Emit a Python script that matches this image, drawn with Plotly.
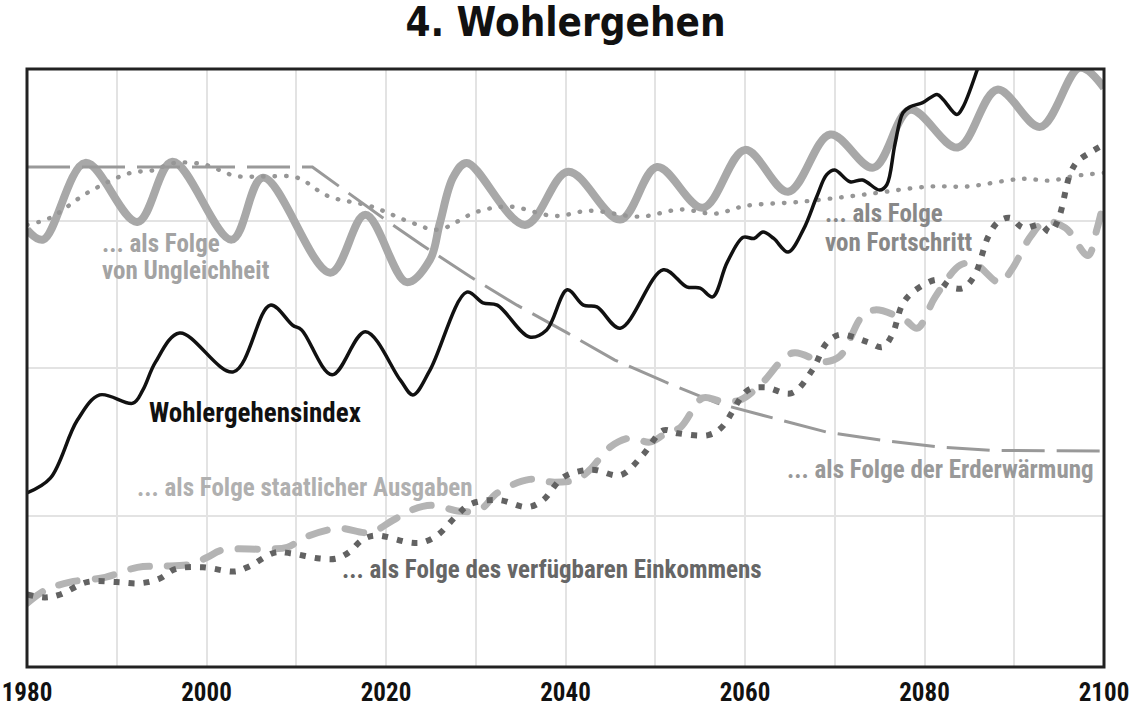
import plotly.graph_objects as go

# ---------------- data (years, index values) ----------------
tick_years = [1980, 1990, 2000, 2010, 2020, 2030, 2040, 2050, 2060, 2070, 2080, 2090, 2100]
tick_labels = ["1980", "", "2000", "", "2020", "", "2040", "", "2060", "", "2080", "", "2100"]

index_years = [1980.0, 1982.6, 1985.6, 1988.1, 1991.8, 1992.9, 1994.3, 1997.0, 2003.0, 2007.1,
               2009.6, 2010.6, 2014.0, 2017.7, 2021.6, 2023.0, 2024.9, 2029.0, 2030.8, 2032.4,
               2036.0, 2037.9, 2040.2, 2042.0, 2043.5, 2046.1, 2050.9, 2053.5, 2055.0, 2056.4,
               2058.0, 2059.8, 2061.0, 2062.0, 2063.2, 2064.8, 2066.5, 2068.0, 2069.1, 2070.0,
               2071.7, 2073.1, 2075.0, 2075.8, 2076.7, 2077.6, 2078.4, 2079.8, 2081.4, 2082.1,
               2083.6, 2084.3, 2086.0, 2086.4]
index_values = [28.9, 31.4, 41.2, 45.5, 44.1, 46.3, 51.0, 56.0, 49.4, 60.7,
                57.3, 56.5, 48.9, 56.2, 48.0, 45.5, 49.7, 62.9, 61.1, 60.7,
                55.3, 56.5, 63.3, 60.7, 60.4, 56.8, 66.7, 63.8, 63.6, 62.1,
                67.9, 72.2, 72.0, 73.1, 72.0, 69.7, 73.5, 79.1, 82.8, 83.6,
                81.6, 81.9, 80.2, 81.1, 87.9, 93.3, 94.3, 95.0, 96.4, 95.5,
                93.0, 94.3, 101.1, 102.8]

ungleichheit_years = [1980.0, 1981.8, 1986.5, 1992.3, 1996.2, 2002.8, 2006.3, 2013.8, 2017.7, 2022.3,
                      2024.9, 2026.0, 2027.5, 2029.0, 2035.5, 2040.3, 2046.1, 2050.2, 2055.3, 2060.0,
                      2064.8, 2069.5, 2074.3, 2078.4, 2083.7, 2088.1, 2092.9, 2097.3, 2100.0]
ungleichheit_values = [73.5, 71.8, 84.8, 74.8, 85.0, 71.8, 82.3, 66.2, 76.0, 64.6,
                       68.4, 74.6, 82.4, 84.8, 74.3, 83.3, 75.2, 84.1, 77.2, 87.0,
                       79.9, 89.6, 84.0, 93.8, 87.4, 97.2, 90.9, 100.9, 97.5]

fortschritt_years = [1980.0, 1982.6, 1986.7, 1991.5, 1993.9, 1996.5, 1999.8, 2003.2, 2006.5, 2010.1,
                     2013.5, 2018.4, 2023.0, 2025.8, 2030.1, 2033.8, 2038.8, 2042.7, 2048.3, 2052.8,
                     2056.7, 2060.0, 2066.1, 2073.1, 2080.6, 2084.7, 2090.9, 2094.0, 2096.8, 2100.0]
fortschritt_values = [74.3, 75.5, 79.7, 83.1, 83.5, 84.8, 84.5, 82.6, 82.5, 82.3,
                      79.2, 77.4, 74.6, 73.5, 76.5, 77.4, 75.8, 76.7, 75.7, 76.9,
                      76.2, 77.5, 78.2, 79.4, 80.8, 80.8, 82.1, 81.8, 82.6, 83.1]

erderwaermung_years = [1980.0, 2011.8, 2019.9, 2024.0, 2029.4, 2034.6, 2040.2, 2045.5, 2051.1, 2056.9,
                       2063.1, 2069.1, 2075.3, 2081.4, 2087.6, 2094.0, 2100.0]
erderwaermung_values = [84.1, 84.1, 75.2, 70.9, 65.5, 60.7, 56.0, 51.4, 47.7, 44.1,
                        41.6, 39.2, 37.8, 36.7, 36.1, 36.0, 36.0]

ausgaben_years = [1980.0, 1982.0, 1984.8, 1988.7, 1992.3, 1994.8, 1998.2, 2000.1, 2001.7, 2006.5,
                  2009.0, 2011.0, 2014.7, 2018.2, 2020.8, 2023.0, 2025.2, 2028.2, 2030.5, 2032.4,
                  2036.0, 2038.8, 2041.3, 2042.7, 2045.0, 2047.2, 2049.4, 2051.1, 2052.8, 2055.3,
                  2057.2, 2059.4, 2061.7, 2065.3, 2068.7, 2070.6, 2073.0, 2074.5, 2077.8, 2079.2,
                  2081.2, 2084.0, 2085.6, 2088.4, 2089.7, 2091.8, 2093.4, 2095.7, 2098.2, 2099.2,
                  2100.0]
ausgaben_values = [10.2, 12.4, 13.8, 14.6, 16.3, 16.5, 16.8, 18.0, 19.2, 19.4,
                   19.7, 21.4, 22.9, 22.2, 24.3, 26.1, 26.8, 25.8, 26.1, 28.9,
                   31.2, 30.7, 31.2, 32.8, 36.7, 38.2, 37.5, 38.9, 40.0, 45.0,
                   44.5, 44.6, 47.2, 52.6, 51.1, 52.1, 58.7, 59.9, 58.2, 56.8,
                   62.1, 67.5, 67.7, 64.5, 66.7, 72.3, 74.8, 73.8, 69.1, 73.5,
                   78.5]

einkommen_years = [1980.0, 1982.0, 1983.7, 1986.7, 1990.0, 1992.6, 1994.8, 1996.5, 1999.6, 2003.2,
                   2004.8, 2007.6, 2009.3, 2012.6, 2014.5, 2016.0, 2017.3, 2018.8, 2022.7, 2024.0,
                   2025.7, 2027.9, 2029.4, 2032.5, 2035.8, 2037.5, 2039.6, 2041.6, 2043.3, 2046.1,
                   2048.6, 2050.9, 2052.5, 2055.9, 2057.4, 2060.3, 2062.2, 2065.2, 2067.5, 2069.1,
                   2070.6, 2073.6, 2075.3, 2076.4, 2077.5, 2078.6, 2081.4, 2082.8, 2084.3, 2085.6,
                   2087.1, 2088.2, 2089.5, 2091.0, 2092.9, 2094.0, 2094.9, 2096.2, 2097.0, 2098.4,
                   2100.0]
einkommen_values = [11.7, 11.2, 11.7, 13.8, 13.8, 13.6, 14.4, 16.0, 16.3, 15.6,
                    16.5, 18.8, 18.7, 17.8, 17.8, 19.0, 20.9, 21.7, 20.5, 20.5,
                    21.7, 25.1, 27.0, 27.7, 26.5, 27.7, 31.4, 32.6, 32.8, 31.9,
                    35.3, 39.5, 39.0, 38.7, 40.0, 46.3, 46.8, 45.8, 49.7, 54.3,
                    55.7, 54.5, 53.6, 55.7, 60.7, 62.8, 65.0, 63.8, 63.6, 65.8,
                    72.3, 74.8, 75.5, 73.8, 74.3, 73.1, 75.2, 82.8, 85.0, 86.5,
                    87.9]

# ---------------- styling ----------------
TITLE_FONT = "DejaVu Sans Condensed, sans-serif"
FONT = "Roboto Condensed, Open Sans Condensed, DejaVu Sans Condensed, sans-serif"

fig = go.Figure()

def add_line(x, y, color, width, dash="solid", shape="spline"):
    fig.add_trace(go.Scatter(x=x, y=y, mode="lines", hoverinfo="skip", showlegend=False,
                             line=dict(color=color, width=width, dash=dash, shape=shape, smoothing=1)))

add_line(ungleichheit_years, ungleichheit_values, "#a8a8a8", 8)               # trace 0
add_line(fortschritt_years, fortschritt_values, "#969696", 4.4, "0.5px,11px")  # trace 1
add_line(erderwaermung_years, erderwaermung_values, "#999999", 3, "43px,12px", "linear")  # trace 2
add_line(ausgaben_years, ausgaben_values, "#b4b4b4", 7, "19px,18px")           # trace 3
add_line(einkommen_years, einkommen_values, "#626262", 6, "6px,9px")          # trace 4
add_line(index_years, index_values, "#111111", 3.5)                             # trace 5

def label(text, x, y, color, size=25, xanchor="left"):
    fig.add_annotation(x=x, y=y, xref="x", yref="y", text=text, showarrow=False,
                       xanchor=xanchor, yanchor="middle", align="left",
                       font=dict(family=FONT, size=size, color=color, weight="bold"))

label("... als Folge", 1988.1, 71.1, "#a3a3a3")
label("von Ungleichheit", 1988.1, 66.5, "#a3a3a3")
label("... als Folge", 2068.7, 76.2, "#888888")
label("von Fortschritt", 2068.7, 71.4, "#888888")
label("Wohlergehensindex", 1993.4, 42.4, "#111111", size=27)
label("... als Folge staatlicher Ausgaben", 1992.0, 29.9, "#b0b0b0")
label("... als Folge des verfügbaren Einkommens", 2014.85, 16.0, "#666666")
label("... als Folge der Erderwärmung", 2064.5, 32.8, "#999999")

fig.add_shape(type="rect", xref="paper", yref="paper", x0=0, x1=1, y0=0, y1=1,
              line=dict(color="#222222", width=3), layer="above")

fig.update_layout(
    width=1131, height=708,
    margin=dict(l=27, r=27, t=69, b=41, autoexpand=False),
    paper_bgcolor="white", plot_bgcolor="white",
    title=dict(text="4. Wohlergehen", x=0.5, xanchor="center", y=1 - 22 / 708, yanchor="middle",
               yref="container", font=dict(family=TITLE_FONT, size=40, color="#111111", weight="bold")),
    xaxis=dict(range=[1980, 2100], tickmode="array", tickvals=tick_years, ticktext=tick_labels,
               showgrid=True, gridcolor="#e3e3e3", gridwidth=2, zeroline=False, showline=False,
               ticks="", automargin=False, ticklabeloverflow="allow", ticklabelstandoff=8,
               tickfont=dict(family=FONT, size=25, color="#111111", weight="bold")),
    yaxis=dict(range=[-0.58, 100.7], tickmode="array", tickvals=[25, 50, 75], showticklabels=False,
               showgrid=True, gridcolor="#e3e3e3", gridwidth=2, zeroline=False, showline=False,
               ticks="", automargin=False),
)

post = """
document.body.style.margin = '0';
document.body.style.padding = '0';
var gd = document.getElementById('{plot_id}');
function roundCaps(){
  var traces = gd.querySelectorAll('.scatterlayer .trace');
  [1, 3].forEach(function(i){
    var t = traces[i];
    if (t) { t.querySelectorAll('path.js-line').forEach(function(p){ p.style.strokeLinecap = 'round'; }); }
  });
}
roundCaps();
if (gd.on) { gd.on('plotly_afterplot', roundCaps); }
"""

fig.write_html("out.html", post_script=post, config={"displayModeBar": False})
